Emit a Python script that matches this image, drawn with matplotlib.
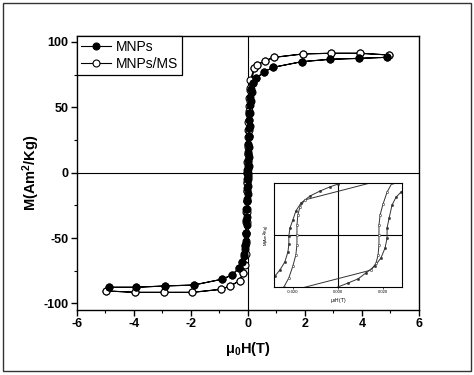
import matplotlib
matplotlib.use('Agg')
import matplotlib.pyplot as plt
from matplotlib.ticker import MultipleLocator, FixedLocator
from matplotlib.patches import Rectangle

plt.rcParams['font.family'] = ['Liberation Sans', 'DejaVu Sans']
plt.rcParams['mathtext.fontset'] = 'custom'
plt.rcParams['mathtext.rm'] = 'Liberation Sans:bold'
plt.rcParams['mathtext.default'] = 'rm'
plt.rcParams['axes.unicode_minus'] = False

# MNPs: descending branch (+5 T -> -5 T) then ascending branch (-5 T -> +5 T)
mnp_h_down = [4.88, 3.89, 2.89, 1.90, 0.90, 0.58, 0.29, 0.17, 0.12, 0.09, 0.07, 0.055, 0.045,
              0.035, 0.025, 0.015, 0.008, 0.0, -0.008, -0.015, -0.021, -0.028, -0.035, -0.045,
              -0.055, -0.065, -0.08, -0.10, -0.13, -0.20, -0.32, -0.55, -0.91, -1.90, -2.89,
              -3.91, -4.88]
mnp_m_down = [88.2, 87.4, 86.7, 84.9, 80.6, 77.2, 72.2, 68.3, 64, 58, 52, 46, 40,
              34, 28, 22, 16, 10, 5, 2, 0, -5, -12, -20,
              -28, -36, -46, -55, -62, -68.0, -73.1, -78.2, -81.5, -85.9, -86.6,
              -87.6, -87.6]
mnp_h_up = [-4.88, -3.91, -2.89, -1.90, -0.91, -0.55, -0.32, -0.20, -0.12, -0.09, -0.07, -0.055,
            -0.045, -0.035, -0.025, -0.015, -0.008, 0.0, 0.008, 0.015, 0.021, 0.028, 0.035,
            0.045, 0.055, 0.065, 0.08, 0.10, 0.13, 0.17, 0.29, 0.58, 0.90, 1.90, 2.89, 3.89,
            4.88]
mnp_m_up = [-87.6, -87.6, -86.6, -85.9, -81.5, -78.2, -73.1, -68.0, -64, -58, -52, -46,
            -40, -34, -28, -22, -16, -10, -5, -2, 0, 5, 12,
            20, 28, 36, 46, 55, 62, 68.3, 72.2, 77.2, 80.6, 84.9, 86.7, 87.4,
            88.2]

# MNPs/MS
ms_h_down = [4.94, 3.92, 2.93, 1.94, 0.93, 0.61, 0.32, 0.23, 0.08, 0.06, 0.05, 0.04, 0.03,
             0.02, 0.012, 0.005, 0.0, -0.006, -0.012, -0.018, -0.025, -0.032, -0.04, -0.05,
             -0.06, -0.075, -0.09, -0.17, -0.29, -0.61, -0.95, -1.94, -2.93, -3.95, -4.96]
ms_m_down = [90.0, 91.3, 91.3, 90.8, 88.2, 85.6, 82.3, 79.8, 70.9, 63, 57, 51, 45,
             39, 33, 27, 21, 14, 8, 0, -7, -14, -22, -30,
             -38, -47, -56, -76.9, -82.6, -86.6, -89.2, -91.5, -91.5, -91.5, -90.4]
ms_h_up = [-4.96, -3.95, -2.93, -1.94, -0.95, -0.61, -0.29, -0.17, -0.09, -0.075, -0.06, -0.05,
           -0.04, -0.032, -0.025, -0.018, -0.012, -0.006, 0.0, 0.005, 0.012, 0.018, 0.025,
           0.032, 0.04, 0.05, 0.06, 0.08, 0.23, 0.32, 0.61, 0.93, 1.94, 2.93, 3.92, 4.94]
ms_m_up = [-90.4, -91.5, -91.5, -91.5, -89.2, -86.6, -82.6, -76.9, -70.6, -62, -54, -46,
           -38, -30, -22, -14, -8, -3, 3, 8, 14, 20, 27,
           33, 40, 47, 55, 65, 79.8, 82.3, 85.6, 88.2, 90.8, 91.3, 91.3, 90.0]

# inset: zoom of the loops near the origin
in_a_h_down = [0.0, -0.0036, -0.008, -0.0124, -0.0164, -0.0187, -0.020, -0.0213, -0.0218,
               -0.0218, -0.0222, -0.0236, -0.0258, -0.028, -0.031]
in_a_m_down = [19.6, 18.5, 16.9, 15.0, 12.3, 9.2, 5.8, 2.7, -0.4, -3.5, -6.5, -10.4, -13.5,
               -15.8, -18.5]
in_a_h_up = [-0.003, 0.0044, 0.0089, 0.0124, 0.0164, 0.0191, 0.0209, 0.0218, 0.0218, 0.0227,
             0.024, 0.0258, 0.028, 0.031]
in_a_m_up = [-21.0, -18.5, -16.9, -14.6, -11.9, -8.8, -5.0, -1.2, 2.7, 6.5, 11.5, 14.6, 16.5,
             18.5]
in_b_h_down = [0.05, -0.0147, -0.0169, -0.0178, -0.0182, -0.0182, -0.0182, -0.0187, -0.020,
               -0.0218, -0.024, -0.027]
in_b_m_down = [28.0, 13.5, 10.8, 7.7, 3.8, 0.0, -3.8, -7.7, -11.9, -16.5, -20.0, -24.0]
in_b_h_up = [-0.05, 0.0147, 0.0169, 0.0178, 0.0182, 0.0182, 0.0182, 0.0187, 0.020, 0.0218,
             0.024, 0.027]
in_b_m_up = [-28.0, -13.5, -10.8, -7.7, -3.8, 0.0, 3.8, 7.7, 11.9, 16.5, 20.0, 24.0]

fig = plt.figure(figsize=(4.74, 3.75), dpi=100)
fig.patches.append(Rectangle((0.007, 0.01), 0.987, 0.982, transform=fig.transFigure,
                             fill=False, edgecolor='#333333', linewidth=1.0))

ax = fig.add_axes([0.1618, 0.1733, 0.722, 0.7307])
ax.axhline(0, color='black', lw=0.8, zorder=1)
ax.axvline(0, color='black', lw=0.8, zorder=1)

mk = dict(color='black', lw=0.8, markersize=5, markeredgewidth=0.8)
ax.plot(mnp_h_down + mnp_h_up, mnp_m_down + mnp_m_up, marker='o',
        markerfacecolor='black', label='MNPs', zorder=3, **mk)
ax.plot(ms_h_down + ms_h_up, ms_m_down + ms_m_up, marker='o',
        markerfacecolor='white', label='MNPs/MS', zorder=2, **mk)

ax.set_xlim(-6, 6)
ax.set_ylim(-105, 104.5)
ax.xaxis.set_major_locator(MultipleLocator(2))
ax.xaxis.set_minor_locator(MultipleLocator(1))
ax.yaxis.set_major_locator(MultipleLocator(50))
ax.yaxis.set_minor_locator(MultipleLocator(25))
ax.tick_params(which='major', direction='out', length=4, width=1, labelsize=9, pad=2)
ax.tick_params(which='minor', direction='out', length=2.5, width=0.8)
for lab in ax.get_xticklabels() + ax.get_yticklabels():
    lab.set_fontweight('bold')
for s in ax.spines.values():
    s.set_linewidth(1.0)

ax.set_xlabel(r'μ$_0$H(T)', fontsize=10.5, fontweight='bold')
ax.set_ylabel(r'M(Am$^2$/Kg)', fontsize=10.5, fontweight='bold')
ax.xaxis.set_label_coords(0.5, -0.11)
ax.yaxis.set_label_coords(-0.102, 0.5)

leg = ax.legend(loc='upper left', bbox_to_anchor=(0.0, 1.0), fontsize=10, frameon=True,
                fancybox=False, edgecolor='black', framealpha=1, borderaxespad=0,
                handlelength=2.2, handletextpad=0.3, borderpad=0.3, labelspacing=0.2)
leg.get_frame().set_linewidth(0.9)

# inset
axi = fig.add_axes([0.578, 0.2347, 0.270, 0.2773])
axi.axhline(0, color='black', lw=0.8)
axi.axvline(0, color='black', lw=0.8)
mi = dict(color='#333333', lw=0.7, marker='o', markersize=1.6, markeredgewidth=0.4)
axi.plot(in_a_h_down, in_a_m_down, markerfacecolor='#333333', **mi)
axi.plot(in_a_h_up, in_a_m_up, markerfacecolor='#333333', **mi)
axi.plot(in_b_h_down, in_b_m_down, markerfacecolor='white', **mi)
axi.plot(in_b_h_up, in_b_m_up, markerfacecolor='white', **mi)
axi.set_xlim(-0.0284, 0.0284)
axi.set_ylim(-20, 20)
axi.xaxis.set_major_locator(FixedLocator([-0.02, 0.0, 0.02]))
axi.set_xticklabels(['-0.020', '0.000', '0.020'])
axi.set_yticks([])
axi.tick_params(labelsize=3, length=1.5, width=0.5, pad=1)
axi.set_xlabel(r'μ$_0$H(T)', fontsize=3.5, labelpad=1)
axi.set_ylabel(r'M(Am$^2$/Kg)', fontsize=3, labelpad=1.5)
for s in axi.spines.values():
    s.set_linewidth(0.8)

fig.savefig('out.png', dpi=100)
